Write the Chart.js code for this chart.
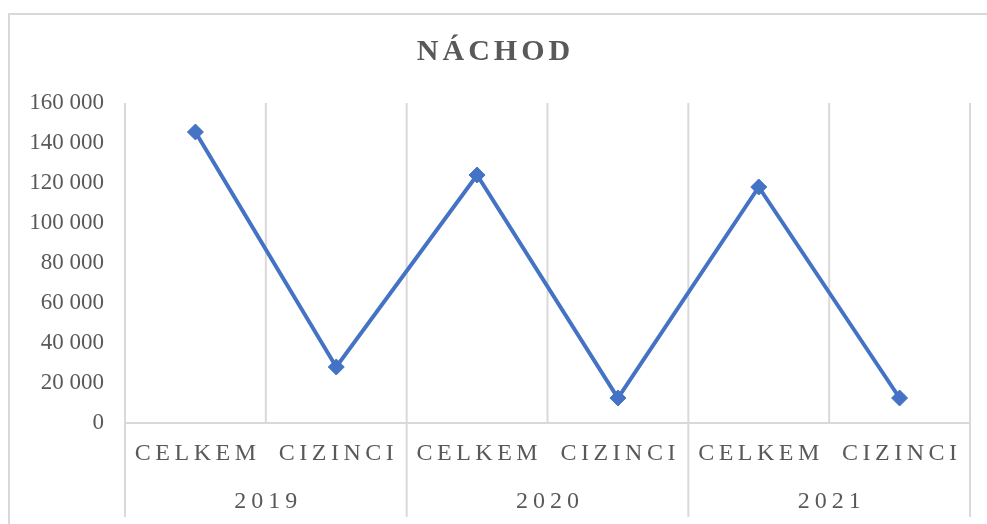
<!DOCTYPE html>
<html>
<head>
<meta charset="utf-8">
<script src="https://cdn.jsdelivr.net/npm/chart.js@4"></script>
<style>
  body { margin: 0; background: #fff; }
  #wrap { width: 987px; height: 524px; position: relative; }
</style>
</head>
<body>
<div id="wrap"><canvas id="nachod"></canvas></div>
<script>
const years = ["2019", "2020", "2021"];
const categories = ["CELKEM", "CIZINCI", "CELKEM", "CIZINCI", "CELKEM", "CIZINCI"];
const values = [145500, 28000, 124000, 12500, 118000, 12500];
const yTicks = { min: 0, max: 160000, step: 20000 };

const textColor = "#595959";
const gridColor = "#d9d9d9";
const serif = "'Liberation Serif', 'Times New Roman', serif";

// mrizka, osa a dvouurovnove popisky kategorii
const excelAxis = {
  id: "excelAxis",
  beforeDatasetsDraw(chart) {
    const ctx = chart.ctx;
    const area = chart.chartArea;
    const x = chart.scales.x;
    const n = categories.length;
    ctx.save();
    ctx.strokeStyle = gridColor;
    ctx.lineWidth = 2;
    for (let i = 0; i <= n; i++) {
      let px;
      if (i === 0) px = area.left;
      else if (i === n) px = area.right;
      else px = (x.getPixelForValue(i - 1) + x.getPixelForValue(i)) / 2;
      const bottom = i % 2 === 0 ? 517 : area.bottom;
      ctx.beginPath();
      ctx.moveTo(px, area.top);
      ctx.lineTo(px, bottom);
      ctx.stroke();
    }
    ctx.beginPath();
    ctx.moveTo(area.left, area.bottom);
    ctx.lineTo(area.right, area.bottom);
    ctx.stroke();
    ctx.restore();
  },
  afterDraw(chart) {
    const ctx = chart.ctx;
    const x = chart.scales.x;
    ctx.save();
    // ramecek grafu
    ctx.strokeStyle = gridColor;
    ctx.lineWidth = 2;
    ctx.strokeRect(9, 14, 1000, 600);

    ctx.fillStyle = textColor;
    ctx.textAlign = "center";
    ctx.textBaseline = "middle";

    let sp = 4.5;
    ctx.letterSpacing = sp + "px";
    ctx.font = "24px " + serif;
    categories.forEach((c, i) => {
      ctx.fillText(c, x.getPixelForValue(i) + sp / 2, 454);
    });
    sp = 5;
    ctx.letterSpacing = sp + "px";
    years.forEach((y, j) => {
      const cx = (x.getPixelForValue(j * 2) + x.getPixelForValue(j * 2 + 1)) / 2;
      ctx.fillText(y, cx + sp / 2, 502);
    });

    sp = 4;
    ctx.letterSpacing = sp + "px";
    ctx.font = "bold 30px " + serif;
    ctx.fillText("NÁCHOD", chart.width / 2 + sp / 2, 52);
    ctx.restore();
  }
};

new Chart("nachod", {
  type: "line",
  data: {
    labels: categories,
    datasets: [{
      data: values,
      borderColor: "#4472C4",
      backgroundColor: "#4472C4",
      borderWidth: 4,
      pointStyle: "rectRot",
      pointRadius: 8,
      pointHoverRadius: 8,
      pointBorderWidth: 1,
      tension: 0
    }]
  },
  options: {
    responsive: true,
    maintainAspectRatio: false,
    animation: false,
    layout: { padding: { top: 103, bottom: 101, right: 17, left: 0 } },
    plugins: {
      legend: { display: false },
      title: { display: false },
      tooltip: { enabled: false }
    },
    scales: {
      x: {
        offset: true,
        grid: { display: false, drawTicks: false },
        border: { display: false },
        ticks: { display: false },
        afterFit(scale) { scale.height = 0; }
      },
      y: {
        min: yTicks.min,
        max: yTicks.max,
        grid: { display: false, drawTicks: false },
        border: { display: false },
        ticks: {
          stepSize: yTicks.step,
          padding: 21,
          color: textColor,
          font: { family: serif, size: 23 },
          callback: v => v.toString().replace(/\B(?=(\d{3})+(?!\d))/g, " ")
        },
        afterFit(scale) { scale.width = 125; }
      }
    }
  },
  plugins: [excelAxis]
});
</script>
</body>
</html>
